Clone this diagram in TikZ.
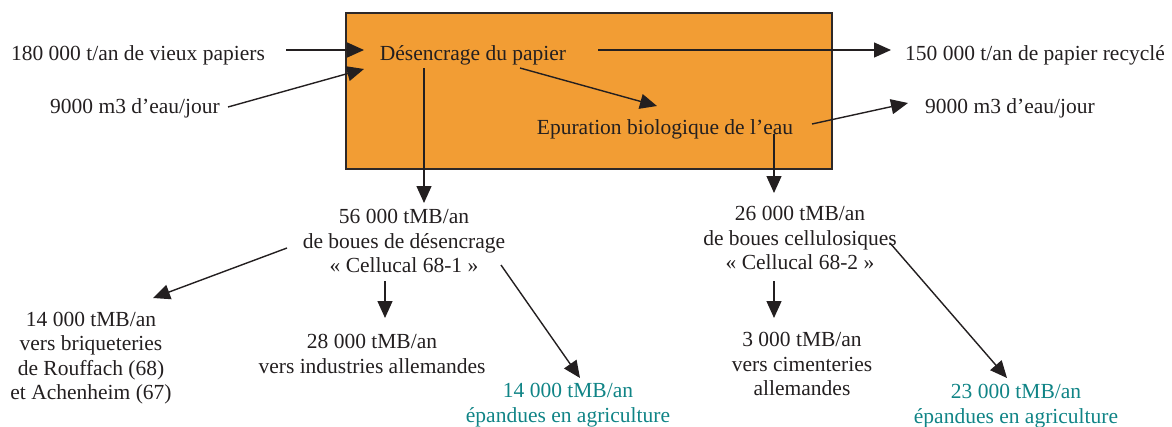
\documentclass[tikz,border=0pt]{standalone}
\usepackage{fontspec}
\setmainfont{Liberation Serif}
\usetikzlibrary{arrows.meta}
\definecolor{boxorange}{RGB}{242,157,52}
\definecolor{boxline}{RGB}{45,40,40}
\definecolor{tealtext}{RGB}{16,132,134}
\definecolor{ink}{RGB}{35,31,32}
\begin{document}
\begin{tikzpicture}[x=1pt,y=-1pt,
  lbl/.style={inner sep=0pt, align=center, text=ink, font=\fontsize{21.5}{24.5}\selectfont},
  tl/.style={lbl, text=tealtext},
  arr/.style={draw=ink, line width=1.4pt, -{Triangle[length=17pt,width=15pt]}},
  procbox/.style={draw=boxline, fill=boxorange, line width=1.3pt, minimum width=486pt, minimum height=156pt, inner sep=0pt}]
\useasboundingbox (0,0) rectangle (1172,426);
\node[procbox] (box) at (589,91) {};
% labels
\node[lbl, anchor=base] (src1) at (138,60) {180 000 t/an de vieux papiers};
\node[lbl, anchor=base] (wat1) at (135,113) {9000 m3 d’eau/jour};
\node[lbl, anchor=base] (des) at (473,60) {Désencrage du papier};
\node[lbl, anchor=base] (out1) at (1035,60) {150 000 t/an de papier recyclé};
\node[lbl, anchor=base] (epu) at (665,134) {Epuration biologique de l’eau};
\node[lbl, anchor=base] (out2) at (1010,113) {9000 m3 d’eau/jour};
\node[lbl] (b1) at (404,241) {56 000 tMB/an\\de boues de désencrage\\« Cellucal 68-1 »};
\node[lbl] (b2) at (800,238) {26 000 tMB/an\\de boues cellulosiques\\« Cellucal 68-2 »};
\node[lbl] (r1) at (91,358) {14 000 tMB/an\\vers briqueteries\\de Rouffach (68)\\et Achenheim (67)};
\node[lbl] (r2) at (372,354) {28 000 tMB/an\\vers industries allemandes};
\node[tl] (r3) at (568,405) {14 000 tMB/an\\épandues en agriculture};
\node[lbl] (c1) at (802,364) {3 000 tMB/an\\vers cimenteries\\allemandes};
\node[tl] (c2) at (1016,406) {23 000 tMB/an\\épandues en agriculture};
% connector end points
\coordinate (a1s) at (286,50);  \coordinate (a1e) at (364,50);
\coordinate (a2s) at (228,107); \coordinate (a2e) at (364,69);
\coordinate (a3s) at (598,50);  \coordinate (a3e) at (891,50);
\coordinate (a4s) at (520,68);  \coordinate (a4e) at (657,106);
\coordinate (a5s) at (812,124); \coordinate (a5e) at (908,103);
\coordinate (a6s) at (424,68);  \coordinate (a6e) at (424,203);
\coordinate (a7s) at (774,134); \coordinate (a7e) at (774,193);
\coordinate (a8s) at (287,248); \coordinate (a8e) at (153,298);
\coordinate (a9s) at (385,281); \coordinate (a9e) at (385,318);
\coordinate (a10s) at (501,265); \coordinate (a10e) at (580,378);
\coordinate (a11s) at (774,281); \coordinate (a11e) at (774,318);
\coordinate (a12s) at (890,243); \coordinate (a12e) at (1007,378);
\draw[arr] (a1s) -- (a1e);
\draw[arr] (a2s) -- (a2e);
\draw[arr] (a3s) -- (a3e);
\draw[arr] (a4s) -- (a4e);
\draw[arr] (a5s) -- (a5e);
\draw[arr] (a6s) -- (a6e);
\draw[arr] (a7s) -- (a7e);
\draw[arr] (a8s) -- (a8e);
\draw[arr] (a9s) -- (a9e);
\draw[arr] (a10s) -- (a10e);
\draw[arr] (a11s) -- (a11e);
\draw[arr] (a12s) -- (a12e);
\end{tikzpicture}
\end{document}
